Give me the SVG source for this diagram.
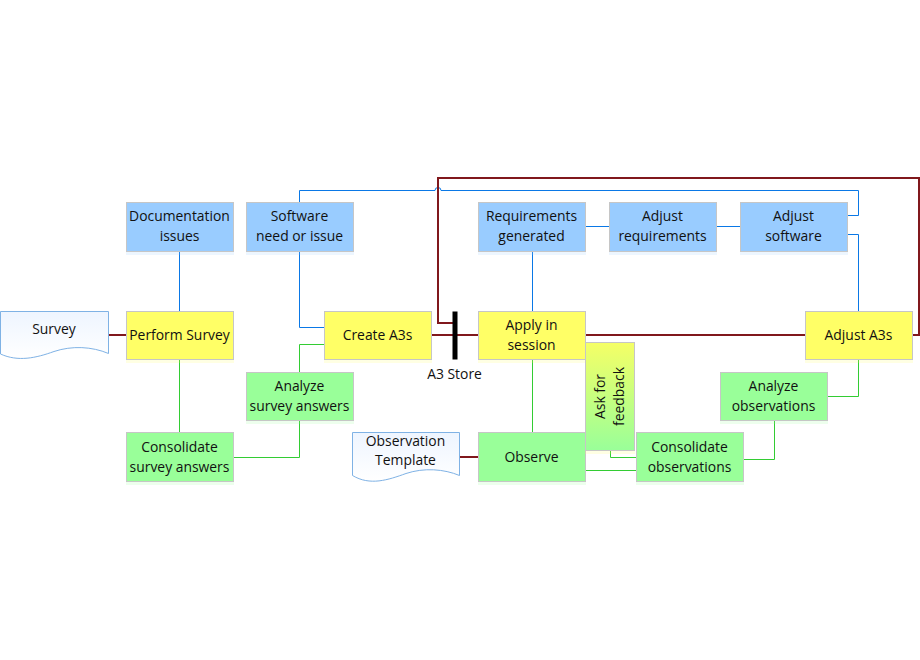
<svg xmlns="http://www.w3.org/2000/svg" width="920" height="660" viewBox="0 0 920 660">
<defs>
<linearGradient id="doc" x1="0" y1="0" x2="0" y2="1"><stop offset="0" stop-color="#eef5ff"/><stop offset="1" stop-color="#ffffff"/></linearGradient>
<linearGradient id="ask" x1="0" y1="0" x2="0" y2="1"><stop offset="0" stop-color="#f5ff66"/><stop offset="1" stop-color="#99ff99"/></linearGradient>
</defs>
<style>
text{font-family:"Open Sans","Noto Sans","Liberation Sans",sans-serif;font-size:13.9px;fill:#111;text-anchor:middle}
.n{stroke:#c6c6c6;stroke-width:1}
.s{opacity:.18}
.b{fill:#99ccff}.y{fill:#ffff66}.g{fill:#99ff99}
.d{fill:url(#doc);stroke:#7fb2e5;stroke-width:1}
.cb,.cg,.cr{fill:none}
.cb{stroke:#0a78e6;stroke-width:1}
.cg{stroke:#33cc33;stroke-width:1}
.cr{stroke:#80181c;stroke-width:2}
</style>
<rect width="920" height="660" fill="#fff"/>
<g id="connectors">
<path class="cb" d="M179.500 251V311M532.500 251V311M585 226.500H610M716 226.500H741M299.500 202V190.500H435A3 3 0 0 1 441 190.500H858.500V215.500H847M847 234.500H858.500V311M299.500 251V327.500H325"/>
<path class="cg" d="M179.500 359V433M532.500 359V433M325 344.500H299.500V373M299.500 420V457.500H233M585 470.500H637M610.500 450V457.500H637M743 459.500H774.500V420M827 396.500H858.500V359"/>
<path class="cr" d="M109 335H127M431 335H479M585 335H806M912 335H919V178H438V323H455M460 457H479"/>
<rect x="452.500" y="311.500" width="5" height="48" fill="#000"/>
</g>
<g id="survey"><path class="d" d="M0.500 311.500H108.500V353.500C92 346.500 72 345.500 54 351.500C36 358 18 362 0.500 354Z"/><text x="54" y="334">Survey</text></g>
<g id="documentation-issues"><rect class="s b" x="126" y="252" width="108" height="3"/><rect class="n b" x="126.500" y="202.500" width="107" height="49"/><text x="179.500" y="221">Documentation</text><text x="179.500" y="240.500">issues</text></g>
<g id="software-need"><rect class="s b" x="246" y="252" width="108" height="3"/><rect class="n b" x="246.500" y="202.500" width="107" height="49"/><text x="299.500" y="221">Software</text><text x="299.500" y="240.500">need or issue</text></g>
<g id="requirements-generated"><rect class="s b" x="478" y="252" width="108" height="3"/><rect class="n b" x="478.500" y="202.500" width="107" height="49"/><text x="531.500" y="221">Requirements</text><text x="531.500" y="240.500">generated</text></g>
<g id="adjust-requirements"><rect class="s b" x="609" y="252" width="108" height="3"/><rect class="n b" x="609.500" y="202.500" width="107" height="49"/><text x="662.500" y="221">Adjust</text><text x="662.500" y="240.500">requirements</text></g>
<g id="adjust-software"><rect class="s b" x="740" y="252" width="108" height="3"/><rect class="n b" x="740.500" y="202.500" width="107" height="49"/><text x="793.500" y="221">Adjust</text><text x="793.500" y="240.500">software</text></g>
<g id="perform-survey"><rect class="s y" x="126" y="360" width="108" height="3"/><rect class="n y" x="126.500" y="311.500" width="107" height="48"/><text x="179.500" y="340">Perform Survey</text></g>
<g id="create-a3s"><rect class="s y" x="324" y="360" width="108" height="3"/><rect class="n y" x="324.500" y="311.500" width="107" height="48"/><text x="377.500" y="340">Create A3s</text></g>
<g id="apply-in-session"><rect class="s y" x="478" y="360" width="108" height="3"/><rect class="n y" x="478.500" y="311.500" width="107" height="48"/><text x="531.500" y="330">Apply in</text><text x="531.500" y="349.500">session</text></g>
<g id="adjust-a3s"><rect class="s y" x="805" y="360" width="108" height="3"/><rect class="n y" x="805.500" y="311.500" width="107" height="48"/><text x="858.500" y="340">Adjust A3s</text></g>
<g id="a3-store"><text x="454.500" y="379">A3 Store</text></g>
<g id="analyze-survey"><rect class="s g" x="246" y="421" width="108" height="3"/><rect class="n g" x="246.500" y="372.500" width="107" height="48"/><text x="299.500" y="391">Analyze</text><text x="299.500" y="410.500">survey answers</text></g>
<g id="consolidate-survey"><rect class="s g" x="126" y="482" width="108" height="3"/><rect class="n g" x="126.500" y="432.500" width="107" height="49"/><text x="179.500" y="452">Consolidate</text><text x="179.500" y="471.500">survey answers</text></g>
<g id="observation-template"><path class="d" d="M352.500 432.500H459.500V475.500C444 469 424 467.500 406 473.500C388 480 370 486 352.500 475.500Z"/><text x="405.500" y="446">Observation</text><text x="405.500" y="465">Template</text></g>
<g id="observe"><rect class="s g" x="478" y="482" width="108" height="3"/><rect class="n g" x="478.500" y="432.500" width="107" height="49"/><text x="531.500" y="462">Observe</text></g>
<g id="ask-for-feedback"><rect class="s y" x="585" y="451" width="50" height="3"/><rect class="n" fill="url(#ask)" x="585.500" y="342.500" width="49" height="108"/><text transform="translate(605 396.500) rotate(-90)">Ask for</text><text transform="translate(624 396.500) rotate(-90)">feedback</text></g>
<g id="consolidate-observations"><rect class="s g" x="636" y="482" width="108" height="3"/><rect class="n g" x="636.500" y="432.500" width="107" height="49"/><text x="689.500" y="452">Consolidate</text><text x="689.500" y="471.500">observations</text></g>
<g id="analyze-observations"><rect class="s g" x="720" y="421" width="108" height="3"/><rect class="n g" x="720.500" y="372.500" width="107" height="48"/><text x="773.500" y="391">Analyze</text><text x="773.500" y="410.500">observations</text></g>
</svg>
